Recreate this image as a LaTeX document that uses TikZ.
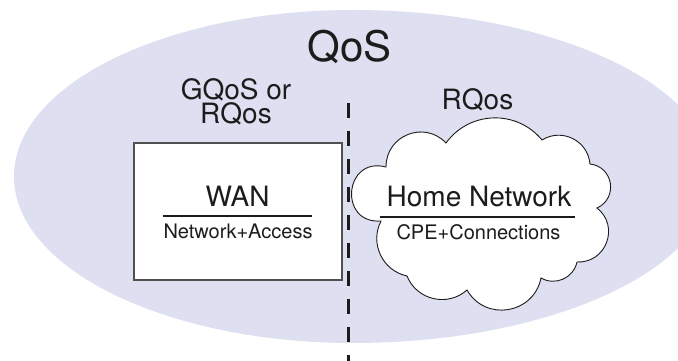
\documentclass[tikz,border=0pt]{standalone}
\usepackage{fontspec}
\setmainfont{TeX Gyre Heros}
\definecolor{qosfill}{RGB}{222,223,240}
\definecolor{ink}{RGB}{28,28,28}
\definecolor{boxline}{RGB}{80,80,80}
\tikzset{
  label28/.style={font=\fontsize{28}{24}\selectfont, text=ink, inner sep=0pt, anchor=base},
  label20/.style={font=\fontsize{20}{22}\selectfont, text=ink, inner sep=0pt, anchor=base},
  wanbox/.style={draw=boxline, line width=1.2pt, fill=white, inner sep=0pt},
  cloudline/.style={draw=ink, line width=0.9pt, fill=white},
  rule/.style={draw=ink, line width=1.3pt},
  divider/.style={draw=ink, line width=2.5pt, dash pattern=on 15pt off 13pt}
}
\begin{document}
\begin{tikzpicture}[x=1pt, y=1pt]
\useasboundingbox (0,0) rectangle (678,361);

% the QoS domain, running off the right edge
\begin{scope}
  \clip (0,0) rectangle (678,361);
  \fill[qosfill] (353,351)
    arc[start angle=90, end angle=270, x radius=339, y radius=166.5]
    arc[start angle=270, end angle=450, x radius=360, y radius=166.5] -- cycle;
\end{scope}

% title and side labels (base of a two-line node sits on its last line)
\node[font=\fontsize{42}{42}\selectfont, text=ink, inner sep=0pt, anchor=base] (qos) at (349.5,299) {QoS};
\node[label28, align=center] (sideL) at (236,237) {GQoS or\\RQos};
\node[label28] (sideR) at (477.5,251) {RQos};

% boundary between WAN and home network
\coordinate (divtop) at (348.5,258);
\coordinate (divbot) at (348.5,0);
\draw[divider] (divtop) -- (divbot);

% WAN box
\node[wanbox, minimum width=208pt, minimum height=137pt] (wanbox) at (238,149.5) {};
\node[label28] (wan) at (237.5,154) {WAN};
\coordinate (wanruleL) at (163,145);
\coordinate (wanruleR) at (312,145);
\draw[rule] (wanruleL) -- (wanruleR);
\node[label20] (wansub) at (238,122) {Network+Access};

% home network cloud, traced lobe by lobe (clockwise)
\coordinate (n1) at (386,194);
\coordinate (n2) at (446,218);
\coordinate (n3) at (542,221);
\coordinate (n4) at (590,197);
\coordinate (n5) at (597,153);
\coordinate (n6) at (577,99);
\coordinate (n7) at (541,83);
\coordinate (n8) at (467,71);
\coordinate (n9) at (407,85);
\coordinate (n10) at (381,140);
\path[cloudline] (n10)
  to[bend left=99.5, looseness=2.04] (n1)
  to[bend left=68.5, looseness=1.25] (n2)
  to[bend left=52.2, looseness=1.06] (n3)
  to[bend left=58.4, looseness=1.12] (n4)
  to[bend left=74.6, looseness=1.35] (n5)
  to[bend left=72.2, looseness=1.30] (n6)
  to[bend left=53.8, looseness=1.07] (n7)
  to[bend left=69.4, looseness=1.26] (n8)
  to[bend left=55.0, looseness=1.08] (n9)
  to[bend left=52.5, looseness=1.06] (n10) -- cycle;
\node[label28] (home) at (479,154) {Home Network};
\coordinate (homeruleL) at (380,144);
\coordinate (homeruleR) at (575,144);
\draw[rule] (homeruleL) -- (homeruleR);
\node[label20] (homesub) at (478.5,121) {CPE+Connections};
\end{tikzpicture}
\end{document}
